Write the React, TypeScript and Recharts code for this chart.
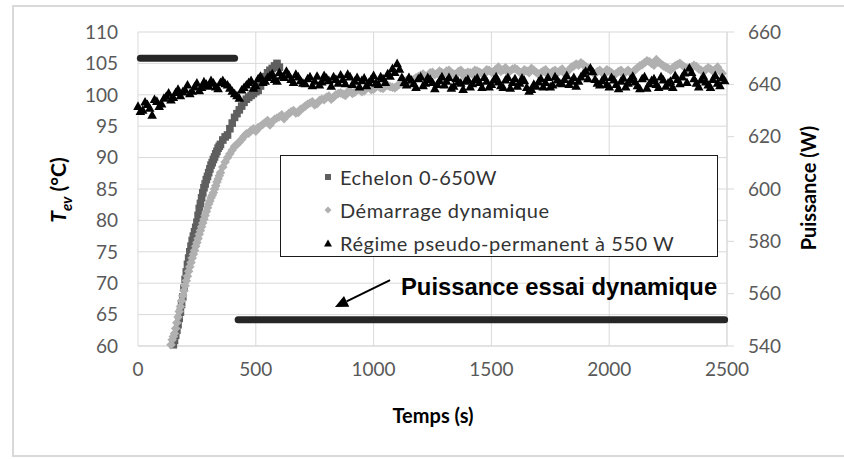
import React from "react";
import {
  ScatterChart,
  Scatter,
  XAxis,
  YAxis,
  CartesianGrid,
  ReferenceLine,
} from "recharts";

// Echelon 0-650W
const echelonTemps = [
  150, 160, 170, 180, 190, 200, 210, 220, 230, 240, 250, 260, 270, 280, 290, 300,
  310, 320, 330, 340, 350, 360, 370, 380, 390, 400, 410, 420, 430, 440, 450, 460,
  470, 480, 490, 500, 510, 520, 530, 540, 550, 560, 570, 580, 590, 600,
];
const echelonValeurs = [
  60.2, 61.7, 63.4, 65.4, 67.8, 70.6, 73.0, 75.0, 76.8, 78.2, 79.7, 81.9, 83.6, 85.2, 86.5, 87.6,
  88.8, 89.7, 90.6, 91.5, 92.1, 92.8, 93.3, 93.6, 94.6, 95.5, 96.4, 97.0, 97.6, 98.2, 98.8, 99.3,
  99.6, 99.9, 100.2, 100.5, 100.7, 101.4, 102.1, 102.9, 103.5, 103.9, 104.2, 104.6, 105.0, 104.4,
];
const echelonTempsB = [
  155, 165, 175, 185, 195, 205, 215, 225, 235, 245, 255, 265, 275, 285, 295, 305,
  315, 325, 335, 345,
];
const echelonValeursB = [
  60.9, 62.5, 64.4, 66.6, 69.2, 71.8, 74.0, 75.9, 77.5, 78.9, 80.8, 82.7, 84.4, 85.8, 87.0, 88.2,
  89.2, 90.1, 91.0, 91.8,
];

// Démarrage dynamique
const demarrageTemps = [
  140, 160, 180, 200, 220, 240, 260, 280, 300, 320, 340, 360, 380, 400, 420, 440,
  460, 480, 500, 520, 540, 560, 580, 600, 620, 640, 660, 680, 700, 720, 740, 760,
  780, 800, 820, 840, 860, 880, 900, 920, 940, 960, 980, 1000, 1020, 1040, 1060, 1080,
  1100, 1120, 1140, 1160, 1180, 1200, 1220, 1240, 1260, 1280, 1300, 1320, 1340, 1360, 1380, 1400,
  1420, 1440, 1460, 1480, 1500, 1520, 1540, 1560, 1580, 1600, 1620, 1640, 1660, 1680, 1700, 1720,
  1740, 1760, 1780, 1800, 1820, 1840, 1860, 1880, 1900, 1920, 1940, 1960, 1980, 2000, 2020, 2040,
  2060, 2080, 2100, 2120, 2140, 2160, 2180, 2200, 2220, 2240, 2260, 2280, 2300, 2320, 2340, 2360,
  2380, 2400, 2420, 2440, 2460, 2480,
];
const demarrageValeurs = [
  60.2, 62.8, 66.3, 69.6, 72.6, 75.2, 77.8, 80.2, 82.6, 84.4, 86.6, 88.5, 90.0, 91.2, 92.1, 92.9,
  93.8, 94.3, 94.2, 95.0, 95.6, 95.2, 96.1, 96.5, 96.2, 97.0, 97.5, 97.2, 97.9, 98.5, 98.9, 98.6,
  99.3, 99.6, 99.3, 100.0, 100.3, 99.9, 100.6, 100.4, 100.9, 100.6, 101.2, 100.9, 101.4, 101.0, 101.5, 101.2,
  101.4, 101.9, 102.3, 102.0, 102.7, 103.1, 102.8, 103.5, 103.2, 103.8, 103.4, 103.9, 103.3, 103.7, 103.1, 103.6,
  103.2, 103.8, 103.4, 104.0, 103.6, 104.1, 103.7, 104.3, 103.8, 104.2, 103.6, 104.0, 103.5, 103.9, 103.3, 103.8,
  103.2, 103.7, 103.5, 104.1, 103.6, 104.4, 104.9, 105.1, 104.5, 103.9, 103.4, 103.9, 103.3, 103.8, 103.2, 103.7,
  103.3, 103.9, 103.6, 104.3, 104.8, 105.4, 105.0, 105.6, 104.9, 104.4, 103.9, 104.6, 105.0, 104.4, 104.0, 104.7,
  104.1, 103.7, 104.3, 103.8, 104.4, 103.4,
];
const demarrageTempsB = [
  150, 170, 190, 210, 230, 250, 270, 290, 310, 330, 350, 370, 390, 410, 430, 450,
  470, 490, 510, 530, 550, 570, 590, 610, 630, 650, 670, 690, 710, 730, 750, 770,
  790, 810, 830, 850, 870, 890, 910, 930, 950, 970, 990, 1010, 1030, 1050, 1070, 1090,
  1110, 1130, 1150, 1170, 1190, 1210, 1230, 1250, 1270, 1290, 1310, 1330, 1350, 1370, 1390, 1410,
  1430, 1450, 1470, 1490, 1510, 1530, 1550, 1570, 1590, 1610, 1630, 1650, 1670, 1690, 1710, 1730,
  1750, 1770, 1790, 1810, 1830, 1850, 1870, 1890, 1910, 1930, 1950, 1970, 1990, 2010, 2030, 2050,
  2070, 2090, 2110, 2130, 2150, 2170, 2190, 2210, 2230, 2250, 2270, 2290, 2310, 2330, 2350, 2370,
  2390, 2410, 2430, 2450, 2470,
];
const demarrageValeursB = [
  61.5, 64.6, 68.0, 71.1, 74.0, 76.5, 79.0, 81.4, 83.6, 85.5, 87.6, 89.3, 90.6, 91.8, 92.5, 93.4,
  93.9, 94.6, 94.8, 95.3, 95.9, 95.7, 96.3, 96.8, 96.7, 97.3, 97.1, 97.7, 98.2, 98.7, 98.4, 99.1,
  99.2, 99.8, 99.6, 100.2, 100.1, 100.5, 100.2, 100.8, 100.5, 101.1, 100.8, 101.3, 101.1, 101.6, 101.3, 101.1,
  101.7, 102.1, 102.5, 102.4, 102.9, 103.3, 103.0, 103.6, 103.4, 103.5, 103.8, 103.5, 103.2, 103.9, 103.4, 103.5,
  103.9, 103.6, 103.3, 103.9, 103.5, 104.4, 104.0, 103.6, 104.1, 104.0, 103.4, 103.8, 104.2, 103.6, 103.5, 104.0,
  103.4, 103.9, 103.8, 103.4, 104.0, 104.6, 104.7, 104.8, 104.2, 103.6, 103.7, 103.5, 104.0, 103.5, 103.4, 103.9,
  103.6, 103.5, 104.0, 104.6, 105.1, 105.3, 104.7, 105.2, 104.6, 104.2, 104.3, 104.8, 104.7, 104.2, 104.4, 104.5,
  103.9, 104.0, 104.1, 104.0, 103.8,
];
const demarrageTempsC = [
  145, 155, 165, 175, 185, 195, 205, 215, 225, 235, 245, 255, 265, 275, 285, 295,
  305, 315, 325, 335, 345,
];
const demarrageValeursC = [
  61.0, 62.0, 63.7, 65.5, 67.2, 68.8, 70.4, 71.9, 73.3, 74.6, 75.9, 77.1, 78.4, 79.6, 80.8, 82.0,
  83.1, 84.0, 85.0, 86.1, 87.1,
];

// Régime pseudo-permanent à 550 W
const regimeTemps = [
  0, 20, 40, 60, 80, 100, 120, 140, 160, 180, 200, 220, 240, 260, 280, 300,
  320, 340, 360, 380, 400, 420, 440, 460, 480, 500, 520, 540, 560, 580, 600, 620,
  640, 660, 680, 700, 720, 740, 760, 780, 800, 820, 840, 860, 880, 900, 920, 940,
  960, 980, 1000, 1020, 1040, 1060, 1080, 1100, 1120, 1140, 1160, 1180, 1200, 1220, 1240, 1260,
  1280, 1300, 1320, 1340, 1360, 1380, 1400, 1420, 1440, 1460, 1480, 1500, 1520, 1540, 1560, 1580,
  1600, 1620, 1640, 1660, 1680, 1700, 1720, 1740, 1760, 1780, 1800, 1820, 1840, 1860, 1880, 1900,
  1920, 1940, 1960, 1980, 2000, 2020, 2040, 2060, 2080, 2100, 2120, 2140, 2160, 2180, 2200, 2220,
  2240, 2260, 2280, 2300, 2320, 2340, 2360, 2380, 2400, 2420, 2440, 2460, 2480,
];
const regimeValeurs = [
  98.2, 97.6, 98.5, 96.8, 99.0, 98.6, 99.8, 99.2, 100.4, 99.9, 100.8, 100.2, 101.3, 100.7, 102.1, 101.4,
  101.9, 101.0, 102.3, 101.6, 100.6, 99.9, 100.8, 101.6, 102.3, 101.5, 103.0, 102.2, 103.1, 102.5, 103.6, 102.8,
  103.2, 102.0, 102.9, 101.9, 102.6, 101.5, 103.0, 102.1, 102.7, 101.4, 102.5, 103.2, 101.8, 102.9, 102.2, 101.3,
  102.7, 102.0, 103.1, 101.7, 102.6, 103.4, 104.2, 105.0, 102.8, 101.6, 102.4, 101.2, 102.9, 101.9, 102.5, 101.0,
  102.3, 101.6, 102.8, 101.4, 102.1, 100.9, 102.5, 101.8, 102.7, 101.2, 102.2, 101.7, 102.9, 101.5, 102.4, 101.1,
  102.6, 101.9, 102.3, 100.6, 101.7, 102.1, 101.3, 102.8, 101.6, 102.4, 101.8, 103.1, 102.2, 101.4, 102.9, 103.8,
  104.3, 102.5, 101.6, 102.8, 101.3, 102.4, 101.0, 102.7, 101.9, 103.0, 101.5, 102.6, 101.1, 102.3, 101.7, 102.9,
  101.4, 102.2, 103.1, 101.8, 103.5, 104.3, 102.6, 101.3, 103.0, 101.6, 102.5, 101.9, 102.8,
];
const regimeTempsB = [
  10, 30, 50, 70, 90, 110, 130, 150, 170, 190, 210, 230, 250, 270, 290, 310,
  330, 350, 370, 390, 410, 430, 450, 470, 490, 510, 530, 550, 570, 590, 610, 630,
  650, 670, 690, 710, 730, 750, 770, 790, 810, 830, 850, 870, 890, 910, 930, 950,
  970, 990, 1010, 1030, 1050, 1070, 1090, 1110, 1130, 1150, 1170, 1190, 1210, 1230, 1250, 1270,
  1290, 1310, 1330, 1350, 1370, 1390, 1410, 1430, 1450, 1470, 1490, 1510, 1530, 1550, 1570, 1590,
  1610, 1630, 1650, 1670, 1690, 1710, 1730, 1750, 1770, 1790, 1810, 1830, 1850, 1870, 1890, 1910,
  1930, 1950, 1970, 1990, 2010, 2030, 2050, 2070, 2090, 2110, 2130, 2150, 2170, 2190, 2210, 2230,
  2250, 2270, 2290, 2310, 2330, 2350, 2370, 2390, 2410, 2430, 2450, 2470, 2490,
];
const regimeValeursB = [
  97.4, 98.9, 97.9, 99.3, 98.2, 99.5, 100.3, 99.6, 100.9, 100.5, 101.6, 100.6, 101.9, 101.2, 101.7, 102.3,
  101.3, 102.0, 101.8, 101.1, 100.2, 99.5, 101.2, 102.0, 101.1, 102.6, 102.0, 102.8, 103.4, 102.2, 103.0, 103.8,
  102.5, 103.3, 102.3, 101.8, 102.9, 102.2, 101.6, 103.1, 102.3, 102.9, 101.9, 102.5, 103.3, 101.7, 102.8, 102.3,
  101.5, 102.5, 101.9, 102.9, 102.0, 103.0, 103.6, 104.1, 102.0, 102.8, 101.8, 102.6, 101.5, 102.8, 102.0, 101.7,
  102.9, 102.2, 101.1, 102.6, 101.9, 102.2, 101.3, 102.4, 102.0, 102.8, 101.3, 102.4, 102.1, 101.2, 102.8, 102.0,
  101.4, 102.7, 101.2, 100.9, 101.4, 102.6, 102.0, 101.3, 102.9, 101.9, 102.5, 101.7, 102.8, 102.2, 103.4, 102.6,
  103.7, 101.9, 102.3, 101.7, 102.8, 101.7, 102.2, 101.3, 102.5, 102.1, 101.0, 102.9, 101.8, 102.6, 101.2, 102.4,
  101.9, 101.2, 102.5, 102.9, 102.0, 103.6, 101.9, 102.4, 102.1, 101.2, 103.1, 101.5, 102.3,
];

// Puissance essai dynamique (axe de droite)
const puissance1Temps = [10, 410];
const puissance1Valeurs = [650, 650];
const puissance2Temps = [425, 2490];
const puissance2Valeurs = [550, 550];

const ticksTemps = [0, 500, 1000, 1500, 2000, 2500];
const ticksTev = [60, 65, 70, 75, 80, 85, 90, 95, 100, 105, 110];
const ticksPuissance = [540, 560, 580, 600, 620, 640, 660];

// flèche de l'annotation (temps, Tev)
const flecheDebut = { t: 1070, v: 70.5 };
const flecheFin = { t: 836, v: 66.2 };

const toPts = (ts: number[], vs: number[], key: string) =>
  ts.map((t, i) => ({ t, [key]: vs[i] }));

const echelon = [
  ...toPts(echelonTemps, echelonValeurs, "v"),
  ...toPts(echelonTempsB, echelonValeursB, "v"),
];
const demarrage = [
  ...toPts(demarrageTemps, demarrageValeurs, "v"),
  ...toPts(demarrageTempsB, demarrageValeursB, "v"),
  ...toPts(demarrageTempsC, demarrageValeursC, "v"),
];
const regime = [
  ...toPts(regimeTemps, regimeValeurs, "v"),
  ...toPts(regimeTempsB, regimeValeursB, "v"),
];
const puissance1 = toPts(puissance1Temps, puissance1Valeurs, "p");
const puissance2 = toPts(puissance2Temps, puissance2Valeurs, "p");

const GRID = "#d9d9d9";
const TICK = "#595959";
const FONT = "Lato, 'Open Sans', sans-serif";

const Carre = (props: any) => (
  <rect x={props.cx - 3.8} y={props.cy - 3.8} width={7.6} height={7.6} fill="#5f5f5f" />
);
const Losange = (props: any) => {
  const { cx, cy } = props;
  return (
    <polygon
      points={`${cx},${cy - 4.8} ${cx + 4.8},${cy} ${cx},${cy + 4.8} ${cx - 4.8},${cy}`}
      fill="#b0b0b0"
    />
  );
};
const Triangle = (props: any) => {
  const { cx, cy } = props;
  return (
    <polygon
      points={`${cx},${cy - 4.8} ${cx + 4.8},${cy + 3.8} ${cx - 4.8},${cy + 3.8}`}
      fill="#000"
    />
  );
};
const Rien = () => <g />;

const Fleche = (props: any) => {
  const { x1, y1, x2, y2 } = props;
  const a = Math.atan2(y2 - y1, x2 - x1);
  const L = 13;
  const W = 6;
  const bx = x2 - L * Math.cos(a);
  const by = y2 - L * Math.sin(a);
  const px = -Math.sin(a) * W;
  const py = Math.cos(a) * W;
  return (
    <g>
      <line x1={x1} y1={y1} x2={bx} y2={by} stroke="#000" strokeWidth={2} />
      <polygon
        points={`${x2},${y2} ${bx + px},${by + py} ${bx - px},${by - py}`}
        fill="#000"
      />
    </g>
  );
};

const legendItems = [
  { label: "Echelon 0-650W", marker: "carre" },
  { label: "Démarrage dynamique", marker: "losange" },
  { label: "Régime pseudo-permanent à 550 W", marker: "triangle" },
];

function LegendMarker({ type }: { type: string }) {
  return (
    <svg width={12} height={12} style={{ marginRight: 6 }}>
      {type === "carre" && <rect x={3} y={3} width={6} height={6} fill="#5f5f5f" />}
      {type === "losange" && <polygon points="6,2.5 9.5,6 6,9.5 2.5,6" fill="#b0b0b0" />}
      {type === "triangle" && <polygon points="6,2.5 10,9.5 2,9.5" fill="#000" />}
    </svg>
  );
}

const tickStyle = { fill: TICK, fontSize: 19, fontFamily: FONT };

export default function App() {
  return (
    <div style={{ position: "relative", width: 844, height: 459, overflow: "hidden", background: "#fff", fontFamily: FONT }}>
      <style>{"body{margin:0}"}</style>
      <div
        style={{
          position: "absolute",
          left: 12,
          top: 5,
          width: 900,
          height: 452,
          border: `2px solid ${GRID}`,
          boxSizing: "border-box",
        }}
      />
      <div style={{ position: "absolute", left: 0, top: 0 }}>
        <ScatterChart
          width={844}
          height={459}
          margin={{ top: 32, right: 0, bottom: 83, left: 0 }}
        >
          <CartesianGrid stroke={GRID} yAxisId="left" />
          <XAxis
            type="number"
            dataKey="t"
            domain={[0, 2500]}
            ticks={ticksTemps}
            height={30}
            tickLine={false}
            tickMargin={11}
            axisLine={{ stroke: GRID }}
            tick={tickStyle}
          />
          <YAxis
            yAxisId="left"
            type="number"
            dataKey="v"
            domain={[60, 110]}
            ticks={ticksTev}
            width={138}
            axisLine={false}
            tickLine={false}
            tickMargin={14}
            tick={tickStyle}
          />
          <YAxis
            yAxisId="right"
            orientation="right"
            type="number"
            dataKey="p"
            domain={[540, 660]}
            ticks={ticksPuissance}
            width={117}
            axisLine={{ stroke: GRID }}
            tickLine={{ stroke: GRID }}
            tickSize={7}
            tickMargin={14}
            tick={tickStyle}
          />
          <Scatter
            name="Echelon 0-650W"
            yAxisId="left"
            data={echelon}
            shape={Carre}
            isAnimationActive={false}
          />
          <Scatter
            name="Démarrage dynamique"
            yAxisId="left"
            data={demarrage}
            shape={Losange}
            isAnimationActive={false}
          />
          <Scatter
            name="Régime pseudo-permanent à 550 W"
            yAxisId="left"
            data={regime}
            shape={Triangle}
            isAnimationActive={false}
          />
          <Scatter
            yAxisId="right"
            data={puissance1}
            shape={Rien}
            line={{ stroke: "#262626", strokeWidth: 7, strokeLinecap: "round" }}
            isAnimationActive={false}
          />
          <Scatter
            yAxisId="right"
            data={puissance2}
            shape={Rien}
            line={{ stroke: "#262626", strokeWidth: 7, strokeLinecap: "round" }}
            isAnimationActive={false}
          />
          <ReferenceLine
            yAxisId="left"
            segment={[
              { x: flecheDebut.t, y: flecheDebut.v },
              { x: flecheFin.t, y: flecheFin.v },
            ]}
            shape={Fleche}
          />
        </ScatterChart>
      </div>

      {/* legend */}
      <div
        style={{
          position: "absolute",
          left: 280,
          top: 155,
          width: 438,
          height: 102,
          border: "1px solid #1a1a1a",
          boxSizing: "border-box",
          background: "#fff",
          paddingLeft: 41,
          paddingTop: 4,
        }}
      >
        {legendItems.map((it) => (
          <div
            key={it.label}
            style={{
              display: "flex",
              alignItems: "center",
              height: 33,
              fontSize: 20,
              letterSpacing: 0.55,
              color: "#333",
              whiteSpace: "nowrap",
            }}
          >
            <LegendMarker type={it.marker} />
            {it.label}
          </div>
        ))}
      </div>

      {/* annotation */}
      <div
        style={{
          position: "absolute",
          left: 401,
          top: 287,
          transform: "translateY(-50%)",
          fontFamily: "'Liberation Sans', Arial, sans-serif",
          fontWeight: "bold",
          fontSize: 23.8,
          color: "#000",
          whiteSpace: "nowrap",
        }}
      >
        Puissance essai dynamique
      </div>

      {/* axis titles */}
      <div
        style={{
          position: "absolute",
          left: 60,
          top: 190,
          transform: "translate(-50%, -50%) rotate(-90deg)",
          fontWeight: "bold",
          fontSize: 21,
          color: "#000",
          whiteSpace: "nowrap",
        }}
      >
        <i>T</i>
        <sub style={{ fontStyle: "italic", fontSize: 15 }}>ev</sub> (°C)
      </div>
      <div
        style={{
          position: "absolute",
          left: 808,
          top: 188,
          transform: "translate(-50%, -50%) rotate(-90deg)",
          fontWeight: "bold",
          fontSize: 20,
          color: "#000",
          whiteSpace: "nowrap",
        }}
      >
        Puissance (W)
      </div>
      <div
        style={{
          position: "absolute",
          left: 433,
          top: 415,
          transform: "translate(-50%, -50%)",
          fontWeight: "bold",
          fontSize: 20,
          color: "#000",
          whiteSpace: "nowrap",
        }}
      >
        Temps (s)
      </div>
    </div>
  );
}
